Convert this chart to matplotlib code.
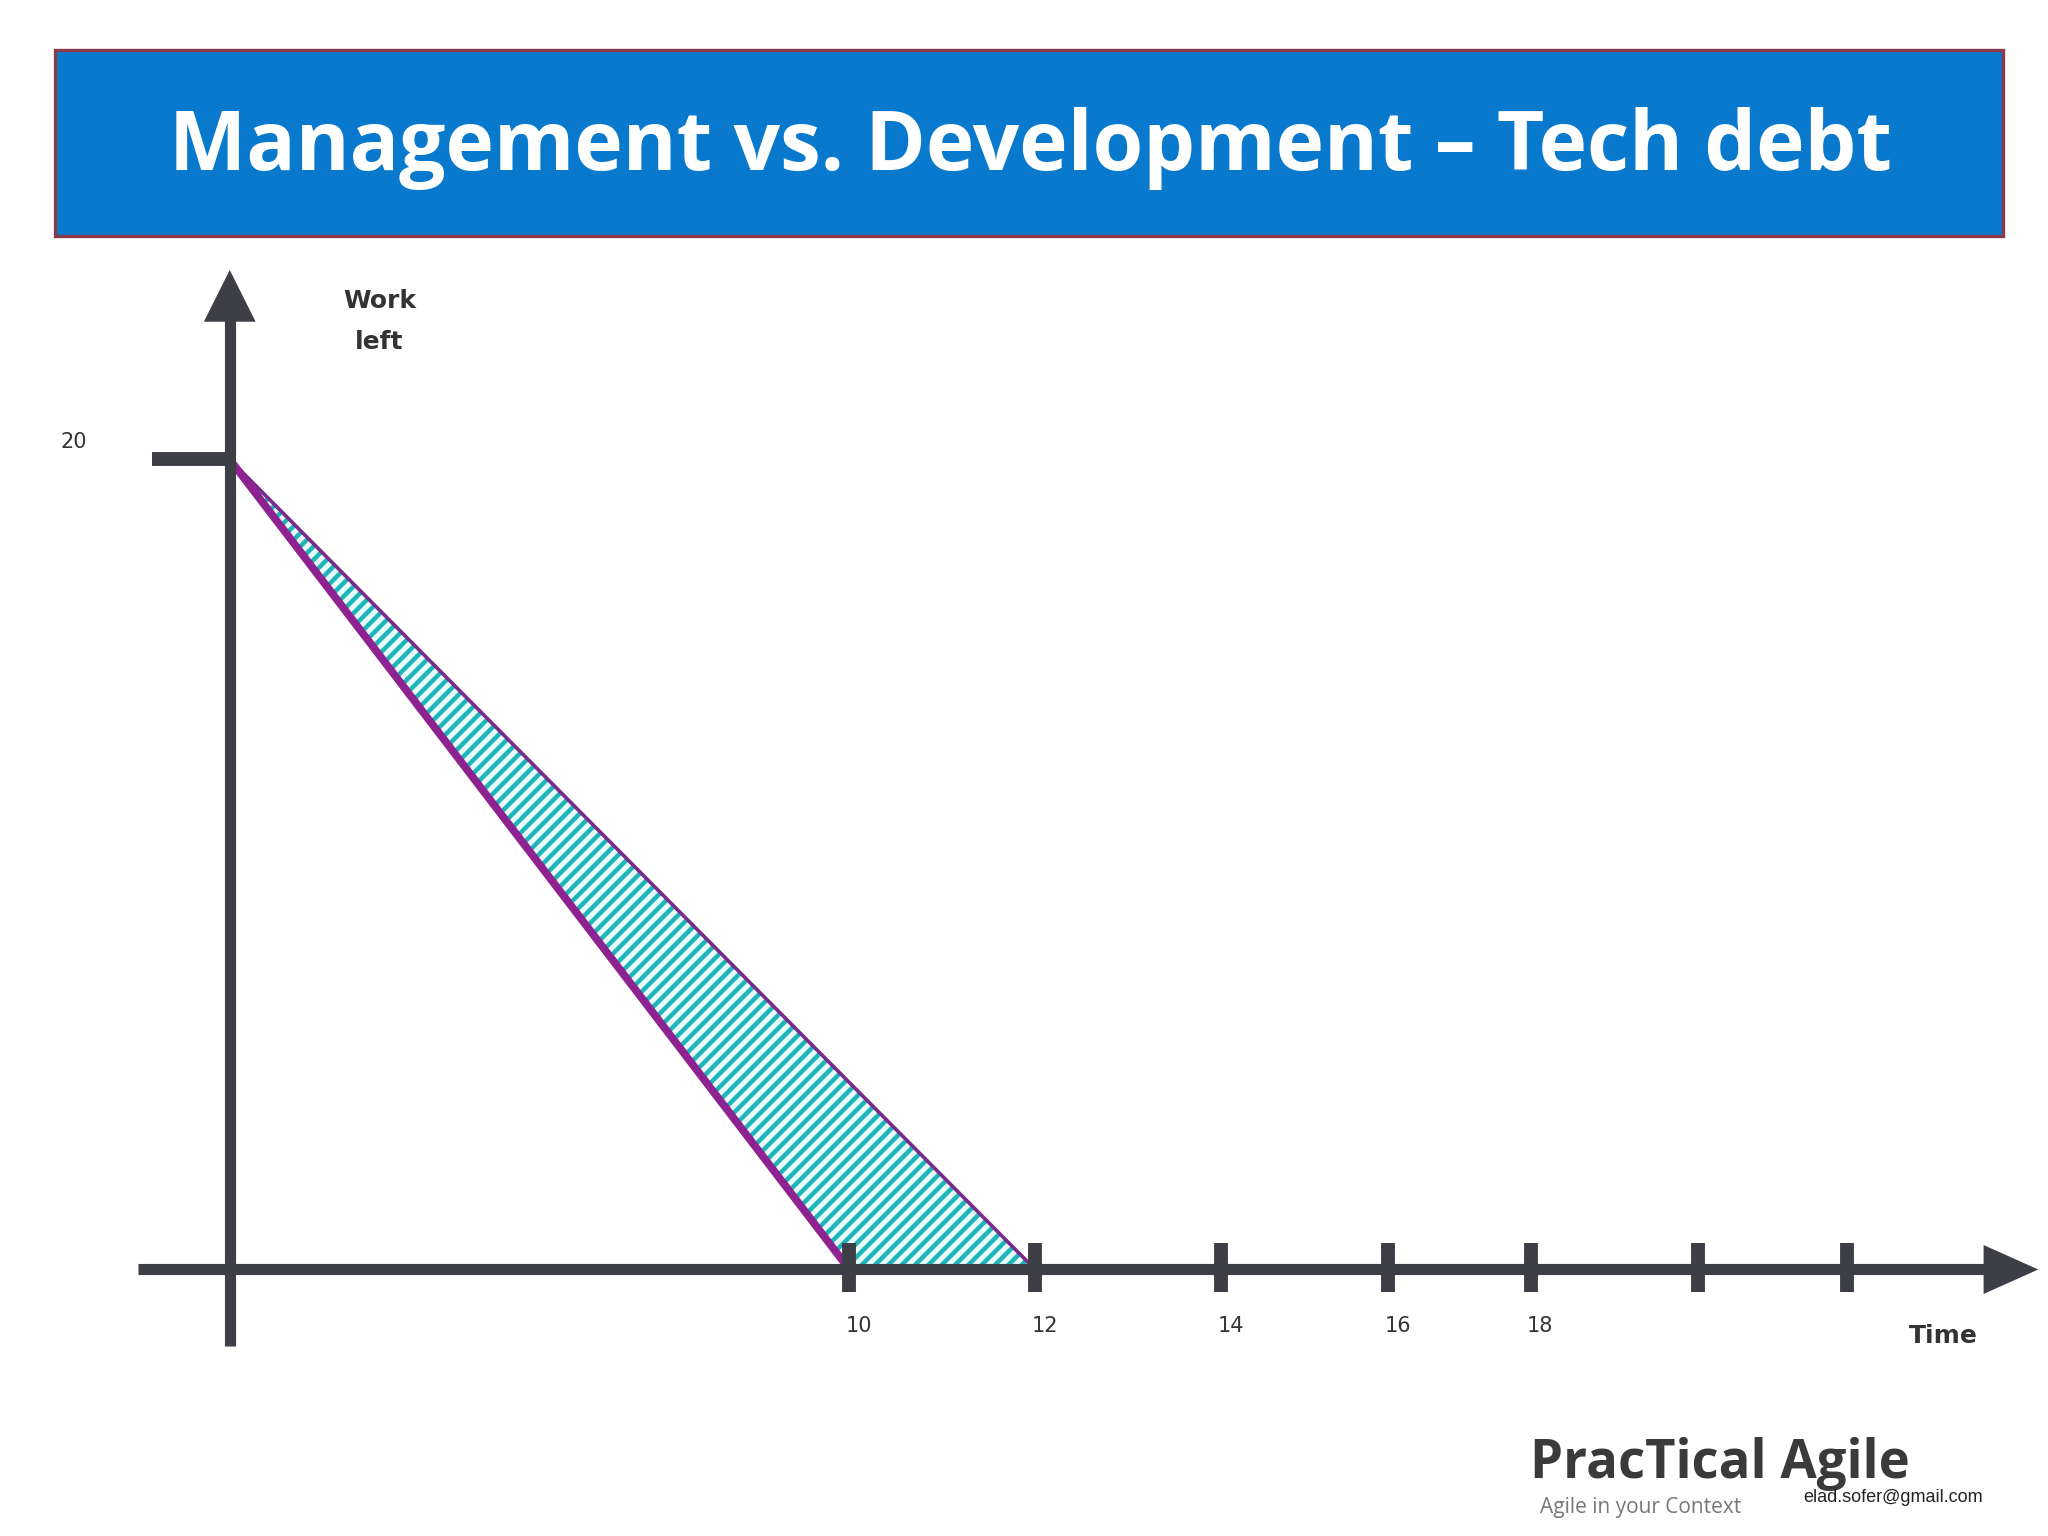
import matplotlib.pyplot as plt
from matplotlib.patches import Polygon, Rectangle

# data (x in drawn-axis units, tick spacing as on the slide)
start_work = 20
plan_end = 10
actual_end = 13
tick_pos = [10, 13, 16, 18.7, 21, 23.7, 26.1]
tick_labels = ["10", "12", "14", "16", "18", "", ""]

W, H = 1560, 1170
x0, sx = 175, 47.2
y0, sy = 967, 30.85

def px(x):
    return (x - x0) / sx

def py(y):
    return (y0 - y) / sy

plt.rcParams["hatch.linewidth"] = 1.8

fig = plt.figure(figsize=(10.24, 7.68), dpi=200)
ax = fig.add_axes([0, 0, 1, 1])
ax.set_xlim(px(0), px(W))
ax.set_ylim(py(H), py(0))
ax.axis("off")

axc = "#3e3e46"

# title banner
ax.add_patch(Rectangle((42 / W, 1 - 180 / H), (1526 - 42) / W, 142 / H,
                       transform=ax.transAxes, facecolor="#0879cc",
                       edgecolor="#8a3a4a", lw=1.2))
ax.text(785 / W, 1 - 113 / H, "Management vs. Development \u2013 Tech debt",
        transform=ax.transAxes, ha="center", va="center", color="white",
        fontsize=29.5, fontweight="bold", family="Open Sans")

# shaded tech debt region
ax.add_patch(Polygon([(0, start_work), (actual_end, 0), (plan_end, 0)],
                     facecolor="#1db5b8", edgecolor="#e8fbfb", hatch="/////",
                     lw=0, zorder=2))
ax.plot([0, actual_end], [start_work, 0], color="#7a2a8a", lw=1.3, zorder=3)
ax.plot([0, plan_end], [start_work, 0], color="#8e2290", lw=2.8, zorder=4)

# axes
ax.plot([px(105), px(1515)], [0, 0], color=axc, lw=4, zorder=5, solid_capstyle="butt")
ax.plot([0, 0], [py(1025), py(240)], color=axc, lw=4, zorder=5, solid_capstyle="butt")
ax.add_patch(Polygon([(px(1550), 0), (px(1512), py(950)), (px(1512), py(984))],
                     color=axc, zorder=5))
ax.add_patch(Polygon([(0, py(208)), (px(157), py(244)), (px(193), py(244))],
                     color=axc, zorder=5))
ax.plot([px(116), 0], [start_work, start_work], color=axc, lw=5, zorder=5,
        solid_capstyle="butt")
ax.text(px(56), py(337), str(start_work), ha="center", va="center",
        fontsize=7.5, color="#333333")

for t, lab in zip(tick_pos, tick_labels):
    ax.plot([t, t], [py(947), py(984)], color=axc, lw=5, zorder=6,
            solid_capstyle="butt")
    ax.text(t + 0.15, py(1010), lab, ha="center", va="center", fontsize=7.5,
            color="#333333")

ax.text(px(289), py(245), "Work\nleft", ha="center", va="center", fontsize=9,
        fontweight="bold", color="#333333", linespacing=1.9, family="DejaVu Sans")
ax.text(px(1480), py(1018), "Time", ha="center", va="center", fontsize=9,
        fontweight="bold", color="#333333")

# logo
ax.text(px(1310), py(1115), "PracTical Agile", ha="center", va="center",
        fontsize=19, fontweight="bold", color="#3a3a3a", family="Open Sans")
ax.text(px(1250), py(1148), "Agile in your Context", ha="center", va="center",
        fontsize=7.5, color="#777777", family="Open Sans")
ax.text(px(1442), py(1141), "elad.sofer@gmail.com", ha="center", va="center",
        fontsize=6.5, color="#222222", family="Liberation Sans")

fig.savefig("out.png", dpi=200)
